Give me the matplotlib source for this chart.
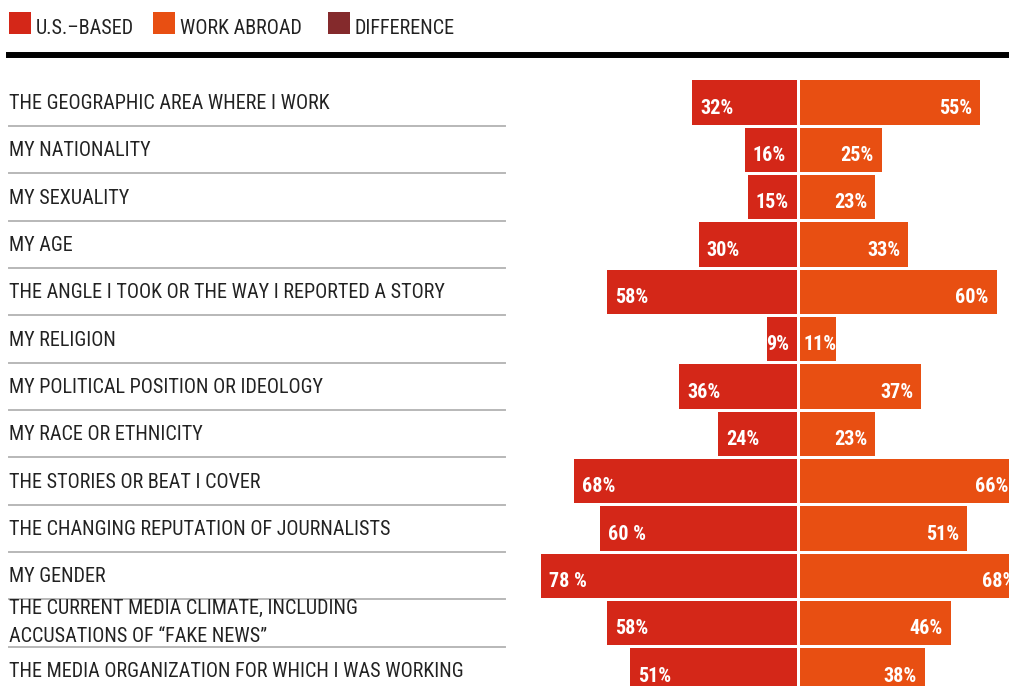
import matplotlib
matplotlib.use("Agg")
import matplotlib.pyplot as plt
from matplotlib import font_manager
from matplotlib.patches import Rectangle
from matplotlib.lines import Line2D
from matplotlib.transforms import blended_transform_factory

# ---- data -------------------------------------------------------------
categories = [
    "THE GEOGRAPHIC AREA WHERE I WORK",
    "MY NATIONALITY",
    "MY SEXUALITY",
    "MY AGE",
    "THE ANGLE I TOOK OR THE WAY I REPORTED A STORY",
    "MY RELIGION",
    "MY POLITICAL POSITION OR IDEOLOGY",
    "MY RACE OR ETHNICITY",
    "THE STORIES OR BEAT I COVER",
    "THE CHANGING REPUTATION OF JOURNALISTS",
    "MY GENDER",
    "THE CURRENT MEDIA CLIMATE, INCLUDING\nACCUSATIONS OF “FAKE NEWS”",
    "THE MEDIA ORGANIZATION FOR WHICH I WAS WORKING",
]
us_based = [32, 16, 15, 30, 58, 9, 36, 24, 68, 60, 78, 58, 51]
work_abroad = [55, 25, 23, 33, 60, 11, 37, 23, 66, 51, 68, 46, 38]
us_labels = ["32%", "16%", "15%", "30%", "58%", "9%", "36%", "24%",
             "68%", "60 %", "78 %", "58%", "51%"]
abroad_labels = ["55%", "25%", "23%", "33%", "60%", "11%", "37%", "23%",
                 "66%", "51%", "68%", "46%", "38%"]
legend_labels = ["U.S.–BASED", "WORK ABROAD", "DIFFERENCE"]

# ---- style --------------------------------------------------------------
C_US = "#d42718"
C_ABROAD = "#e84f12"
C_DIFF = "#842a2c"
TEXT = "#222222"
RULE = "#b8b8b8"

available = {f.name for f in font_manager.fontManager.ttflist}


def pick_font(candidates):
    for name in candidates:
        if name in available:
            return name
    return "DejaVu Sans"


FONT = pick_font(["Liberation Sans Narrow", "Roboto Condensed",
                  "Open Sans Condensed", "Liberation Sans"])
plt.rcParams["font.family"] = [FONT, "DejaVu Sans"]

W, H = 1009, 686
DPI = 100
fig = plt.figure(figsize=(W / DPI, H / DPI), dpi=DPI, facecolor="white")

# geometry in pixels
PX_PER_PCT = 3.28
CENTER_PX = 798.5
GAP = 1.5 / PX_PER_PCT          # half gap around the centre, in % units
ROW_PITCH = 47.33
ROW0_PX = 102.5                 # centre of the first row, from the top
XMIN, XMAX = -85, 70

ax_left_px = CENTER_PX + XMIN * PX_PER_PCT
ax_right_px = CENTER_PX + XMAX * PX_PER_PCT
y_top = -ROW0_PX / ROW_PITCH
y_bot = (H - ROW0_PX) / ROW_PITCH
ax = fig.add_axes([ax_left_px / W, 0, (ax_right_px - ax_left_px) / W, 1])
ax.set_xlim(XMIN, XMAX)
ax.set_ylim(y_bot, y_top)
ax.axis("off")

rows = list(range(len(categories)))
bar_h = 44.5 / ROW_PITCH

ax.barh(rows, [-v for v in us_based], left=-GAP, height=bar_h,
        color=C_US, linewidth=0)
ax.barh(rows, work_abroad, left=GAP, height=bar_h,
        color=C_ABROAD, linewidth=0)

# value labels inside the bars
renderer = fig.canvas.get_renderer()
pad = 8 / PX_PER_PCT
val_kw = dict(color="white", fontsize=14.5, fontweight="semibold",
              va="baseline")
base_off = 11.3 / ROW_PITCH
for i in rows:
    left_edge = -GAP - us_based[i]
    t = ax.text(left_edge + pad, i + base_off, us_labels[i], ha="left", **val_kw)
    w = t.get_window_extent(renderer).width
    if w + 16 > us_based[i] * PX_PER_PCT:
        t.set_position((-GAP - pad, i + base_off))
        t.set_ha("right")

    right_edge = GAP + work_abroad[i]
    t = ax.text(right_edge - pad, i + base_off, abroad_labels[i], ha="right",
                clip_on=False, **val_kw)
    w = t.get_window_extent(renderer).width
    if w + 16 > work_abroad[i] * PX_PER_PCT:
        t.set_position((GAP + 4 / PX_PER_PCT, i + base_off))
        t.set_ha("left")

# category labels and separators on the left
lab_tr = blended_transform_factory(fig.transFigure, ax.transData)
x_text = 9 / W
for i, name in enumerate(categories):
    n_lines = name.count("\n") + 1
    if n_lines == 1:
        y = i + 6.5 / ROW_PITCH
    else:
        # baseline anchor sits on the last line
        y = i + 19.2 / ROW_PITCH
    ax.text(x_text, y, name, transform=lab_tr, ha="left", va="baseline",
            fontsize=14.5, color=TEXT, linespacing=1.62, clip_on=False)
for i in rows[:-1]:
    ax.add_line(Line2D([9 / W, 505 / W], [i + 0.5, i + 0.5], transform=lab_tr,
                       color=RULE, linewidth=1.4, clip_on=False))

# header rule
fig.add_artist(Line2D([9 / W, 1.0], [1 - 55 / H, 1 - 55 / H],
                      transform=fig.transFigure, color="black", linewidth=4.3))

# legend
leg_x = [9, 153, 328]
leg_colors = [C_US, C_ABROAD, C_DIFF]
for x, c, lab in zip(leg_x, leg_colors, legend_labels):
    fig.add_artist(Rectangle((x / W, 1 - 34 / H), 22 / W, 22 / H,
                             transform=fig.transFigure, facecolor=c,
                             linewidth=0))
    fig.text((x + 27) / W, 1 - 33.7 / H, lab, ha="left", va="baseline",
             fontsize=14.5, color=TEXT)

fig.savefig("out.png", dpi=DPI, facecolor="white")
